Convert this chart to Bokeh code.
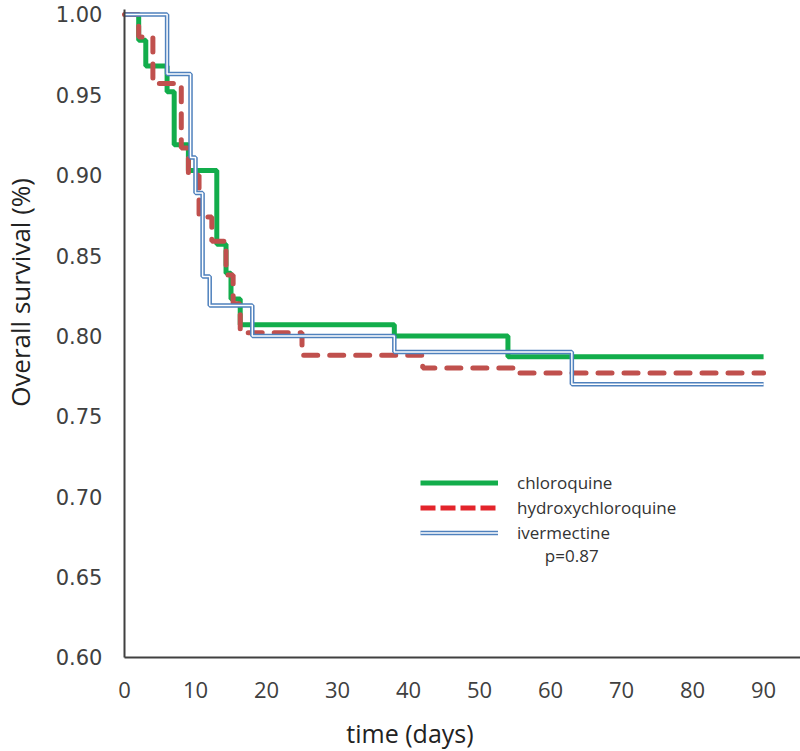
import math
from bokeh.plotting import figure
from bokeh.models import (Range1d, FixedTicker, PrintfTickFormatter, Legend,
                          LegendItem, Label, LinearAxis)
from bokeh.embed import file_html
from bokeh.resources import INLINE

# ---- data ----
chloro_t = [0, 2, 3, 6, 7, 9, 13, 14.3, 15, 16.3, 38, 54, 90]
chloro_s = [1.0, 0.984, 0.968, 0.952, 0.919, 0.903, 0.857, 0.839, 0.823, 0.807, 0.800, 0.787, 0.787]

hydroxy_t = [0, 2, 4, 8, 9, 10.5, 12.3, 14.3, 15.3, 16.3, 25, 42, 55.5, 90]
hydroxy_s = [1.0, 0.986, 0.957, 0.917, 0.900, 0.874, 0.859, 0.838, 0.820, 0.802, 0.788, 0.780, 0.777, 0.777]

iver_t = [0, 6, 9.3, 10, 11, 12, 18, 38, 63, 90]
iver_s = [1.0, 0.963, 0.911, 0.889, 0.837, 0.819, 0.800, 0.790, 0.770, 0.770]

x_ticks = [0, 10, 20, 30, 40, 50, 60, 70, 80, 90]
y_ticks = [0.60, 0.65, 0.70, 0.75, 0.80, 0.85, 0.90, 0.95, 1.00]

series_names = ["chloroquine", "hydroxychloroquine", "ivermectine"]
p_value_text = "p=0.87"
x_title = "time (days)"
y_title = "Overall survival (%)"

GREEN = "#12ad4b"
RED = "#c0504d"
RED_LEG = "#e3242b"
BLUE = "#4f81bd"
AX = "#404040"

X_MIN, X_MAX = 0, 95.2
Y_MIN, Y_MAX = 0.60, 1.003

# the frame covers the whole canvas; axes are pinned at x=0 and y=0.60
p = figure(width=800, height=751, output_backend="svg", toolbar_location=None,
           x_range=Range1d(-17.46, 95.2), y_range=Range1d(0.5415, 1.0087),
           x_axis_location=None, y_axis_location=None,
           min_border=0, min_border_left=0, min_border_right=0,
           min_border_top=0, min_border_bottom=0)
p.outline_line_color = None
p.grid.visible = False
p.background_fill_color = "white"

xaxis = LinearAxis(fixed_location=Y_MIN, bounds=(X_MIN, X_MAX),
                   ticker=FixedTicker(ticks=x_ticks))
yaxis = LinearAxis(fixed_location=X_MIN, bounds=(Y_MIN, Y_MAX),
                   ticker=FixedTicker(ticks=y_ticks),
                   formatter=PrintfTickFormatter(format="%.2f"))
for ax in (xaxis, yaxis):
    ax.axis_line_color = AX
    ax.axis_line_width = 2
    ax.major_tick_line_color = None
    ax.minor_tick_line_color = None
    ax.major_tick_out = 0
    ax.major_tick_in = 0
    ax.minor_tick_out = 0
    ax.major_label_text_color = AX

xaxis.major_label_text_font = "Open Sans"
xaxis.major_label_text_font_size = "22px"
xaxis.major_label_standoff = 25
yaxis.major_label_text_font = "DejaVu Sans"
yaxis.major_label_text_font_size = "21px"
yaxis.major_label_standoff = 22
p.add_layout(xaxis, "below")
p.add_layout(yaxis, "left")

# lines
g = p.step(chloro_t, chloro_s, mode="after", line_color=GREEN, line_width=5)
r = p.step(hydroxy_t, hydroxy_s, mode="after", line_color=RED, line_width=5,
           line_dash="14 12", line_cap="round")
b1 = p.step(iver_t, iver_s, mode="after", line_color=BLUE, line_width=4.5)
b2 = p.step(iver_t, iver_s, mode="after", line_color="white", line_width=1.5)

# legend proxy for red (brighter in the reference legend); no visible data
r_leg = p.line([math.nan], [math.nan], line_color=RED_LEG, line_width=5, line_dash="15 5")

legend = Legend(items=[
    LegendItem(label=series_names[0], renderers=[g]),
    LegendItem(label=series_names[1], renderers=[r_leg]),
    LegendItem(label=series_names[2], renderers=[b1, b2]),
], location=(420, 206), orientation="vertical")
legend.glyph_width = 78
legend.glyph_height = 25
legend.label_height = 25
legend.spacing = 0
legend.padding = 0
legend.margin = 0
legend.label_standoff = 19
legend.border_line_color = None
legend.background_fill_alpha = 0
legend.label_text_font = "Open Sans"
legend.label_text_font_size = "17px"
legend.label_text_color = "#333333"
p.add_layout(legend, "center")

p.add_layout(Label(x=59.2, y=0.6635, text=p_value_text, text_font="Open Sans",
                   text_font_size="17px", text_color="#333333",
                   text_align="left", text_baseline="middle"))

# axis titles
p.add_layout(Label(x=40.2, y=0.5530, text=x_title, text_font="Open Sans",
                   text_font_size="25px", text_color="#222222",
                   text_align="center", text_baseline="middle"))
p.add_layout(Label(x=-14.65, y=0.8271, text=y_title, text_font="Open Sans",
                   text_font_size="26px", text_color="#222222", angle=math.pi / 2,
                   text_align="center", text_baseline="middle"))

open("out.html", "w").write(file_html(p, INLINE))
